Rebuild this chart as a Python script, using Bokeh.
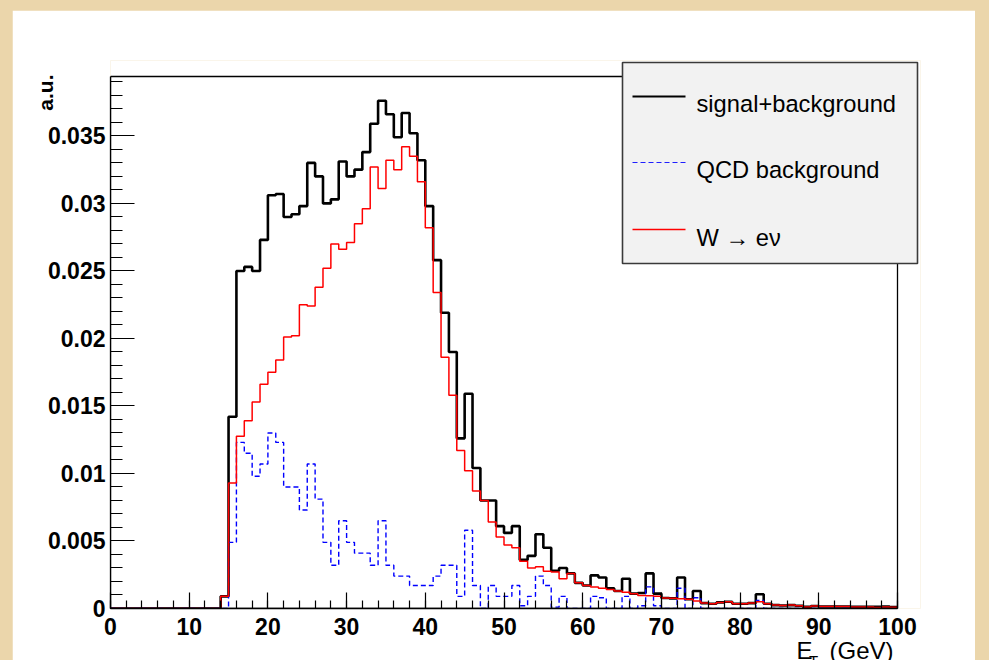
import numpy as np
from bokeh.plotting import figure
from bokeh.models import (Range1d, Label, SingleIntervalTicker, CustomJSTickFormatter,
                          BoxAnnotation, Arrow, Title, LinearAxis, FixedTicker)
from bokeh.embed import file_html
from bokeh.resources import INLINE

# --- histogram contents: 100 bins of 1 GeV from 0 to 100 GeV ---
bin_low_edges = list(range(0, 100))

signal_plus_background = [
    0, 0, 0, 0, 0, 0, 0, 0, 0, 0,
    0, 0, 0, 0, 0.0009, 0.0142, 0.0250, 0.0253, 0.0250, 0.0273,
    0.0306, 0.0307, 0.0290, 0.0292, 0.0298, 0.0330, 0.0320, 0.0300, 0.0303, 0.0331,
    0.0320, 0.0325, 0.0338, 0.0359, 0.0376, 0.0366, 0.0349, 0.0367, 0.0352, 0.0332,
    0.0298, 0.0258, 0.0219, 0.0190, 0.0126, 0.0159, 0.0104, 0.0080, 0.0080, 0.0061,
    0.0056, 0.0061, 0.0036, 0.0039, 0.0055, 0.0045, 0.0028, 0.0030, 0.0026, 0.0019,
    0.0017, 0.00245, 0.0023, 0.0015, 0.0013, 0.0022, 0.0011, 0.00115, 0.0026, 0.0011,
    0.00078, 0.00075, 0.0023, 0.00068, 0.0013, 0.0004, 0.00035, 0.00045, 0.0005, 0.00035,
    0.00035, 0.0004, 0.00105, 0.00035, 0.00025, 0.00022, 0.00025, 0.0002, 0.00012, 0.00018,
    0.00015, 0.00015, 0.00015, 0.00015, 0.00012, 0.00012, 0.00012, 0.00012, 0.00015, 0.0001,
]

qcd_background = [
    0, 0, 0, 0, 0, 0, 0, 0, 0, 0,
    0, 0, 0, 0, 0, 0.0049, 0.0123, 0.0115, 0.0098, 0.0107,
    0.0130, 0.0123, 0.0090, 0.0090, 0.0073, 0.0107, 0.0081, 0.0049, 0.0032, 0.0065,
    0.0049, 0.0041, 0.0041, 0.0032, 0.0065, 0.0032, 0.0024, 0.0024, 0.0017, 0.0017,
    0.0017, 0.0024, 0.0032, 0.0032, 0.0009, 0.0058, 0.0017, 0.0, 0.0017, 0.0009,
    0.0009, 0.0017, 0.0002, 0.0009, 0.0024, 0.0017, 0.0001, 0.0009, 0, 0,
    0, 0.0009, 0.0008, 0, 0, 0.0009, 0, 0.0002, 0.0016, 0.0002,
    0, 0, 0.0015, 0, 0.0008, 0, 0, 0, 0, 0,
    0, 0, 0.0006, 0, 0, 0, 0, 0, 0, 0,
    0, 0, 0, 0, 0, 0, 0, 0, 0, 0,
]

w_to_enu = [
    0, 0, 0, 0, 0, 0, 0, 0, 0, 0,
    0, 0, 0, 0, 0.0009, 0.0093, 0.01275, 0.0139, 0.0153, 0.0166,
    0.0175, 0.0184, 0.0201, 0.0202, 0.0225, 0.0224, 0.0238, 0.0252, 0.0270, 0.0266,
    0.0271, 0.0285, 0.0296, 0.0327, 0.0311, 0.0332, 0.0325, 0.0342, 0.0335, 0.0316,
    0.0282, 0.0234, 0.0186, 0.0158, 0.0117, 0.0102, 0.0087, 0.0080, 0.0064, 0.0053,
    0.0047, 0.0045, 0.0035, 0.0030, 0.0031, 0.00275, 0.0027, 0.0022, 0.0026, 0.0019,
    0.0017, 0.0016, 0.0015, 0.0014, 0.0013, 0.0012, 0.0011, 0.00097, 0.00095, 0.0009,
    0.00078, 0.00075, 0.00072, 0.00068, 0.00055, 0.0004, 0.00035, 0.00045, 0.0005, 0.00035,
    0.00035, 0.0004, 0.0005, 0.00035, 0.00025, 0.00022, 0.00025, 0.0002, 0.00012, 0.00018,
    0.00015, 0.00015, 0.00015, 0.00015, 0.00012, 0.00012, 0.00012, 0.00008, 0.00012, 0.0001,
]

X_MIN, X_MAX = 0, 100          # histogram axis
Y_MIN, Y_MAX = 0, 0.0394
x_major_step = 10
y_major_step = 0.005

legend_entries = ["signal+background", "QCD background", "W \u2192 e\u03bd"]

# --- page geometry (pixels from the page's top-left corner) ---
PAGE_LEFT, PAGE_TOP, PAGE_RIGHT = 12, 10, 975
AXIS_L, AXIS_R, AXIS_T, AXIS_B = 110, 897, 76, 608      # histogram box
FRAME_T, FRAME_R = 60, 920                               # drawable area reaches the legend
X_PER_PX = (X_MAX - X_MIN) / (AXIS_R - AXIS_L)
Y_PER_PX = (Y_MAX - Y_MIN) / (AXIS_B - AXIS_T)


def sx(px):
    return X_MIN + (px - AXIS_L) * X_PER_PX


def sy(py):
    return Y_MIN + (AXIS_B - py) * Y_PER_PX


BOTTOM_BORDER = 72
TOP_BORDER = FRAME_T - PAGE_TOP
main_height = TOP_BORDER + (AXIS_B - FRAME_T) + BOTTOM_BORDER
main_width = PAGE_RIGHT - PAGE_LEFT

p = figure(width=main_width, height=main_height, output_backend="svg", toolbar_location=None,
           x_range=Range1d(X_MIN, sx(FRAME_R)), y_range=Range1d(Y_MIN, sy(FRAME_T)),
           min_border_left=AXIS_L - PAGE_LEFT, min_border_right=PAGE_RIGHT - FRAME_R,
           min_border_top=TOP_BORDER, min_border_bottom=BOTTOM_BORDER,
           margin=(PAGE_TOP, 989 - PAGE_RIGHT, 0, PAGE_LEFT))
p.background_fill_color = "white"
p.border_fill_color = "white"
p.grid.visible = False
p.outline_line_color = None

TXT_FONT = "Liberation Sans"

xax = p.xaxis[0]
xax.bounds = (X_MIN, X_MAX)
xax.ticker = SingleIntervalTicker(interval=x_major_step, num_minor_ticks=5)
xax.major_tick_in, xax.major_tick_out = 16, 0
xax.minor_tick_in, xax.minor_tick_out = 8, 0
xax.major_label_standoff = 9
yax = p.yaxis[0]
yax.bounds = (Y_MIN, Y_MAX)
yax.ticker = SingleIntervalTicker(interval=y_major_step, num_minor_ticks=5)
yax.formatter = CustomJSTickFormatter(code="return String(Math.round(tick*1000)/1000);")
yax.major_tick_in, yax.major_tick_out = 24, 0
yax.minor_tick_in, yax.minor_tick_out = 12, 0
yax.major_label_standoff = 5
for ax in (xax, yax):
    ax.axis_line_color = "black"
    ax.axis_line_width = 1.3
    ax.major_tick_line_color = "black"
    ax.minor_tick_line_color = "black"
    ax.major_tick_line_width = 1.2
    ax.minor_tick_line_width = 1.2
    ax.major_label_text_font = TXT_FONT
    ax.major_label_text_font_style = "bold"
    ax.major_label_text_font_size = "23px"
    ax.major_label_text_color = "black"

# y-axis title, top-aligned
p.add_layout(Title(text="a.u.", align="right", vertical_align="bottom", offset=14, standoff=-24,
                   text_font=TXT_FONT, text_font_style="bold", text_font_size="21px",
                   text_color="black"), "left")

# x-axis title "E_T (GeV)", right-aligned under the axis: written as tick labels of two
# bare axes so that the subscript can sit lower and smaller than the main text
title_pos = {"E": round(sx(804), 2), "(GeV)": round(sx(861), 2)}
sub_pos = {"T": round(sx(813), 2)}


def text_axis(positions, size, standoff):
    return LinearAxis(ticker=FixedTicker(ticks=list(positions.values()), minor_ticks=[]),
                      major_label_overrides={v: k for k, v in positions.items()},
                      axis_line_color=None, major_tick_line_color=None, minor_tick_line_color=None,
                      major_tick_in=0, major_tick_out=0, minor_tick_in=0, minor_tick_out=0,
                      major_label_standoff=standoff, major_label_text_font=TXT_FONT,
                      major_label_text_font_size=size, major_label_text_color="black")


p.add_layout(text_axis(title_pos, "24px", -1), "below")
p.add_layout(text_axis(sub_pos, "15px", -15), "below")

# box around the histogram area (top and right edges)
p.add_layout(BoxAnnotation(left=X_MIN, right=X_MAX, bottom=Y_MIN, top=Y_MAX,
                           fill_alpha=0.0, line_color="black", line_alpha=1.0, line_width=1.3))

# --- histograms drawn as step outlines ---
edges = bin_low_edges + [X_MAX]


def closed(vals):
    return list(vals) + [vals[-1]]


p.step(x=edges, y=closed(signal_plus_background), mode="after",
       line_color="black", line_width=2.6)
p.step(x=edges, y=closed(qcd_background), mode="after",
       line_color="#0000ff", line_width=1.4, line_dash="5 3")
p.step(x=edges, y=closed(w_to_enu), mode="after",
       line_color="#ff0000", line_width=1.5)

# --- legend ---
p.add_layout(BoxAnnotation(left=sx(622), right=sx(917), top=sy(62), bottom=sy(263),
                           fill_color="#f2f2f2", fill_alpha=1.0,
                           line_color="#3a3a3a", line_width=1.6, line_alpha=1.0))

legend_styles = [
    dict(line_color="black", line_width=2.0, line_dash="solid"),
    dict(line_color="#1f1fff", line_width=1.2, line_dash="5 3"),
    dict(line_color="#ff0000", line_width=1.3, line_dash="solid"),
]
legend_rows = [96, 162, 229]
legend_baselines = [103, 169, 237]
for text, style, row, base in zip(legend_entries, legend_styles, legend_rows, legend_baselines):
    p.add_layout(Arrow(end=None, x_start=sx(632), y_start=sy(row), x_end=sx(685), y_end=sy(row),
                       **style))
    p.add_layout(Label(x=sx(696), y=sy(base), text=text, text_align="left",
                       text_baseline="alphabetic", text_font=TXT_FONT,
                       text_font_size="23.7px", text_color="black"))

html = file_html(p, INLINE)
html = html.replace("<head>", "<head><style>html,body{margin:0;padding:0;overflow:hidden;"
                              "background:#EBD6AB;}</style>", 1)
open("out.html", "w").write(html)
